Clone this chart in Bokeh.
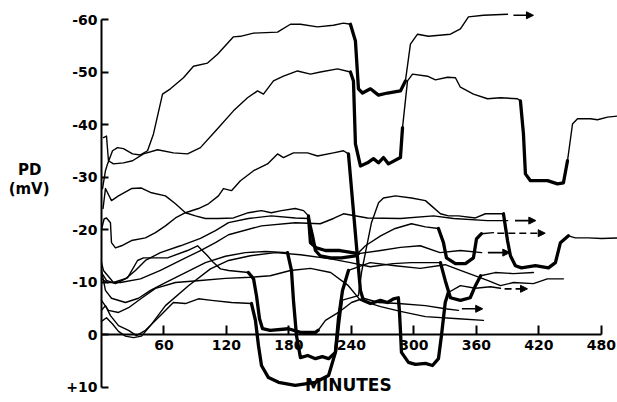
from bokeh.plotting import figure
from bokeh.models import Range1d, FixedTicker, Label, Arrow, NormalHead
from bokeh.embed import file_html
from bokeh.resources import INLINE

# ---------------- data (time in minutes, PD in mV) ----------------
x_ticks = [60, 120, 180, 240, 300, 360, 420, 480]
y_ticks = [-60, -50, -40, -30, -20, -10, 0, 10]
y_tick_labels = ["-60", "-50", "-40", "-30", "-20", "-10", "0", "+10"]

a_t = [1, 3.8, 5.8, 10.6, 15.4, 21.1, 29.8, 37.4, 44.2, 49.9, 58.6, 66.2, 78.7, 88.3, 101.8, 111.4, 126.7, 133.4, 145.9, 169, 181.4, 191, 207.4, 222.7, 232.3, 239, 243.8, 246.7, 250.6, 258.2, 265.9, 274.6, 287, 291.8, 296.6, 303.4, 313.9, 335, 344.6, 352.3, 366.7, 389.8]
a_v = [-27.8, -31.2, -32.5, -35.0, -35.6, -35.4, -34.4, -34.2, -35.0, -38.2, -45.8, -46.8, -48.9, -51.1, -51.7, -53.4, -56.7, -56.8, -57.4, -57.6, -59.1, -59.1, -58.6, -58.9, -59.3, -59.1, -55.9, -46.8, -46.0, -46.8, -45.6, -46.0, -46.4, -48.3, -55.3, -57.2, -56.8, -57.2, -58.2, -60.5, -60.8, -61.0]
a_thick = [(239, 292)]

b_t = [1.9, 4.8, 6.7, 11.5, 21.1, 29.8, 40.3, 53.8, 69.1, 82.6, 95, 111.4, 126.7, 140.2, 149.8, 155.5, 165.1, 174.7, 188.2, 200.6, 210.2, 226.6, 239, 241.9, 243.8, 248.6, 255.4, 261.1, 265.9, 270.7, 275.5, 287, 289, 293.8, 298.6, 313, 320.6, 332.2, 339.8, 344.6, 357.1, 370.6, 383, 399.4, 402.2, 405.1, 407, 411.8, 428.2, 437.8, 443.5, 447.4, 452.2, 457, 469.4, 476.2, 485.8, 495.4]
b_v = [-37.5, -37.8, -33.1, -32.5, -32.7, -33.1, -34.4, -35.2, -34.6, -34.4, -35.6, -39.2, -42.6, -45.1, -46.4, -45.8, -48.3, -49.2, -50.2, -49.6, -50.0, -50.6, -50.0, -48.3, -36.3, -32.1, -32.7, -33.5, -32.7, -33.7, -32.5, -33.7, -39.4, -48.3, -49.6, -49.2, -48.5, -49.0, -48.9, -47.1, -45.8, -44.9, -45.1, -44.9, -44.5, -38.2, -30.6, -29.3, -29.3, -28.7, -28.9, -33.1, -40.1, -41.1, -41.1, -40.9, -41.4, -41.6]
b_thick = [(239, 289), (402.2, 447.4)]

c_t = [1.5, 3.8, 9.6, 16.3, 28.8, 38.4, 48, 61.4, 71, 80.6, 90.2, 99.8, 112.3, 126.7, 141, 153.6, 163, 172.8, 186, 194, 198.7, 200.6, 206.4, 215, 229, 246.7, 268, 287, 306, 325, 344.6, 365]
c_v = [-24, -27.8, -25.5, -26.4, -27.8, -27.9, -27.0, -26.4, -24.9, -23.2, -22.6, -22.1, -22.1, -22.2, -23.2, -23.6, -23.2, -23.6, -24.0, -23.6, -22.6, -17.5, -16.5, -16.0, -16.0, -15.4, -16.0, -16.6, -16.9, -15.6, -16.0, -15.6]
c_thick = [(198.7, 246.7)]

e_t = [0, 2.5, 4.8, 8.6, 9.6, 13.4, 19.2, 28.8, 42.2, 51.8, 61.4, 71, 80.6, 93.1, 102.7, 112.3, 117.1, 124.8, 133.4, 146, 159.4, 169, 174.7, 184.3, 197.8, 207.4, 222.7, 232.3, 237.1, 241, 245.8, 248.6, 251.5, 258.2, 267.8, 274.6, 280.3, 285, 286, 287, 288, 294.7, 301.4, 311, 317.8, 323.5, 326.4, 330, 333, 344.6, 359, 373.4, 383]
e_v = [-20, -22.0, -22.2, -21.3, -17.5, -16.5, -16.9, -17.9, -18.4, -19.4, -20.7, -22.2, -23.2, -24.0, -24.9, -26.4, -27.8, -27.4, -29.3, -31.2, -32.5, -34.4, -33.7, -34.6, -34.6, -34.0, -34.6, -35.0, -34.4, -25.5, -14.6, -8.4, -6.5, -5.9, -6.5, -6.1, -6.8, -7.0, -4.6, -0.8, 3.4, 5.3, 5.7, 5.5, 5.9, 4.6, 0.2, -6.1, -8.0, -9.3, -8.8, -9.1, -8.8]
e_thick = [(237.1, 333)]

d_t = [0, 3.8, 8.6, 16.3, 26, 33.6, 42.2, 56.6, 69, 80.6, 93.1, 105.6, 124.8, 144, 147.8, 150.7, 153.6, 160.3, 170, 186, 205.4, 218, 224.6, 227.5, 230.4, 246.7, 249.6, 253.4, 259.2, 266, 270.7, 282.2, 297.6, 311, 316.8, 325.4, 333.1, 342.7, 359, 368.6, 376.3, 385.9, 389.8, 392.6, 397.4, 403.2, 416.6, 429.1, 435.8, 440.6, 448.3, 455, 467.5, 480, 495.4]
d_v = [-4.6, -5.5, -3.6, -1.7, -0.8, 0.2, -0.8, -3.6, -6.1, -5.9, -6.8, -6.5, -6.1, -5.9, -2.7, 2.1, 5.9, 8.2, 9.1, 9.7, 9.1, 7.8, 3.4, -1.7, -6.5, -7.4, -11.8, -15.6, -21.3, -25.1, -26.0, -26.4, -26.0, -25.5, -24.5, -23.0, -22.6, -22.6, -22.2, -23.0, -23.0, -23.0, -17.9, -15.0, -13.1, -12.7, -13.1, -12.7, -13.7, -17.5, -18.8, -18.4, -18.4, -18.3, -18.4]
d_thick = [(144, 230.4), (385.9, 448.3)]

g_t = [0, 3.8, 9.6, 23, 35.5, 47, 61.4, 80.6, 99.8, 119, 138, 157.4, 178.6, 182.4, 184.3, 187.2, 191, 198, 205.4, 212, 218, 224.6, 227.5, 231.4, 237.1, 258, 282, 306, 330, 344.6, 370.6, 383, 395.5, 414.7, 428, 443.5]
g_v = [-12.2, -8.4, -6.9, -6.1, -6.9, -8.4, -9.9, -11.8, -13.7, -14.9, -15.6, -15.8, -15.6, -12.2, -6.5, 0.2, 4.4, 4.0, 4.6, 4.2, 4.6, 3.4, -3.0, -8.4, -12.2, -13.7, -13.1, -12.6, -13.3, -12.2, -10.3, -9.3, -9.9, -9.7, -10.6, -10.6]
g_thick = [(178.6, 237.1)]

h_t = [0, 1.9, 11.5, 25, 34.6, 40.3, 63.4, 82.6, 92.2, 101.8, 107.5, 114.2, 122, 141, 146, 148.8, 151.7, 154.6, 162, 179.5, 191, 205.4, 208, 215, 227.5, 240, 251.5, 266, 285, 311, 330, 342.7]
h_v = [-13.7, -12.2, -9.9, -10.8, -14.1, -14.6, -14.6, -16.0, -16.9, -15.0, -13.7, -12.5, -12.2, -11.8, -10.6, -7.4, -3.0, -1.1, -0.8, -1.1, -0.4, -0.4, -0.8, -2.7, -4.2, -6.1, -6.9, -6.1, -5.9, -5.5, -4.9, -4.6]
h_thick = [(141, 208)]

q_t = [0, 5.8, 18.2, 37.4, 56.6, 75.8, 95, 109.4, 122, 153.6, 186, 210, 222.7, 232.3, 255.4, 287, 318.7, 338, 370.6, 390]
q_v = [-10.6, -9.9, -9.9, -10.6, -12.2, -14.1, -16.0, -17.5, -19.0, -20.7, -21.3, -21.1, -22.1, -23.0, -22.2, -22.1, -22.6, -22.1, -21.7, -21.7]
q_thick = []

v_t = [0, 4.8, 13.4, 23, 32.6, 42.2, 56.6, 75.8, 95, 109.4, 122, 141, 163, 186, 198.7, 202.6, 205.4, 210, 220, 230.4, 243.8, 253.4, 268, 282, 297.6, 311, 323.5, 328.3, 331.2, 339.8, 349.4, 357.1, 360, 364.8, 376.3]
v_v = [-11.8, -10.3, -9.7, -10.6, -12.2, -14.1, -15.6, -16.9, -18.3, -19.8, -21.3, -22.1, -22.6, -22.2, -22.1, -18.8, -16.0, -15.0, -14.6, -14.6, -15.0, -16.9, -18.8, -20.2, -21.1, -20.5, -20.2, -17.5, -14.6, -13.5, -13.5, -14.6, -18.2, -19.2, -19.4]
v_thick = [(198.7, 243.8), (323.5, 364.8)]

r_t = [0, 4.8, 10.6, 16.3, 23, 30.7, 38.4, 47, 61.4, 83.5, 104.6, 122, 143, 167, 191, 220, 239, 258, 280, 297, 325.4, 330, 335, 344.6, 354, 359, 364, 378, 395.5, 414.7]
r_v = [-2.5, -3.2, -2.0, -0.6, 0.3, 0.6, 0.3, -1.7, -5.5, -9.3, -12.5, -14.1, -15.0, -15.6, -15.2, -14.4, -13.7, -12.9, -13.5, -13.7, -13.7, -10.3, -7.0, -6.5, -7.0, -9.3, -11.2, -11.8, -11.6, -11.8]
r_thick = [(325.4, 364)]

s_t = [0, 6.7, 16.3, 26, 38.4, 51.8, 71, 95, 119, 143, 162, 181.4, 200.6, 220, 237, 248.6, 268, 287, 311, 342.7, 366.7]
s_v = [-6.5, -4.6, -4.2, -5.1, -6.9, -8.8, -9.9, -10.3, -10.7, -10.9, -11.2, -12.2, -12.6, -11.8, -9.3, -6.5, -5.3, -4.4, -3.4, -3.0, -2.7]
s_thick = []

# arrows continuing some traces: (start time, end time, PD, dashed)
arrow_t0 = [395.5, 397, 380, 371, 387, 346]
arrow_t1 = [414.7, 417, 426, 392, 409, 366]
arrow_v = [-60.8, -21.7, -19.3, -15.6, -8.7, -4.9]
arrow_dashed = [False, False, True, False, True, False]

curves = [
    (a_t, a_v, a_thick), (b_t, b_v, b_thick), (c_t, c_v, c_thick),
    (e_t, e_v, e_thick), (d_t, d_v, d_thick), (g_t, g_v, g_thick),
    (h_t, h_v, h_thick), (q_t, q_v, q_thick), (v_t, v_v, v_thick),
    (r_t, r_v, r_thick), (s_t, s_v, s_thick),
]

# ---------------- figure ----------------
p = figure(width=617, height=402,
           x_range=Range1d(-96.96, 495.4), y_range=Range1d(12.95, -63.62),
           output_backend="svg", toolbar_location=None, min_border=0)
p.outline_line_color = None
p.grid.visible = False
p.background_fill_color = "white"
p.border_fill_color = "white"

FONT = "DejaVu Sans"

for ax in (p.xaxis, p.yaxis):
    ax.fixed_location = 0
    ax.axis_line_width = 2
    ax.axis_line_color = "black"
    ax.major_tick_line_width = 2
    ax.major_tick_line_color = "black"
    ax.minor_tick_line_color = None
    ax.major_tick_out = 0
    ax.major_label_text_font = FONT
    ax.major_label_text_font_style = "bold"
    ax.major_label_text_font_size = "14px"
    ax.major_label_text_color = "black"

p.xaxis.ticker = FixedTicker(ticks=x_ticks)
p.xaxis.bounds = (0, 480)
p.xaxis.major_tick_in = 9
p.xaxis.major_label_standoff = 5

p.yaxis.ticker = FixedTicker(ticks=y_ticks)
p.yaxis.bounds = (-60, 10)
p.yaxis.major_tick_in = 7
p.yaxis.major_label_standoff = 4
p.yaxis.major_label_overrides = {t: s for t, s in zip(y_ticks, y_tick_labels)}

THIN = 1.4
THICK = 3.3
for t, v, thick in curves:
    p.line(t, v, line_color="black", line_width=THIN, line_join="round", line_cap="round")
    for t0, t1 in thick:
        idx = [i for i, tt in enumerate(t) if t0 <= tt <= t1]
        p.line([t[i] for i in idx], [v[i] for i in idx], line_color="black",
               line_width=THICK, line_join="round", line_cap="round")

for t0, t1, yv, dashed in zip(arrow_t0, arrow_t1, arrow_v, arrow_dashed):
    p.add_layout(Arrow(end=NormalHead(size=7, line_color="black", fill_color="black", line_width=1),
                       x_start=t0, y_start=yv, x_end=t1, y_end=yv,
                       line_color="black", line_width=1.6,
                       line_dash="7 4" if dashed else "solid"))

p.add_layout(Label(x=237, y=9.6, text="MINUTES", text_font=FONT, text_font_style="bold",
                   text_font_size="17px", text_align="center", text_baseline="middle",
                   text_color="black"))
p.add_layout(Label(x=-69, y=-31.4, text="PD", text_font=FONT, text_font_style="bold",
                   text_font_size="15px", text_align="center", text_baseline="middle",
                   text_color="black"))
p.add_layout(Label(x=-69.5, y=-27.8, text="(mV)", text_font=FONT, text_font_style="bold",
                   text_font_size="15px", text_align="center", text_baseline="middle",
                   text_color="black"))

open("out.html", "w").write(file_html(p, INLINE))
